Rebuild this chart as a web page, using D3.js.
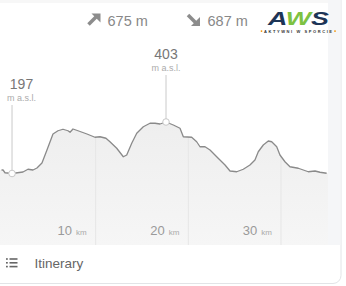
<!DOCTYPE html>
<html><head><meta charset="utf-8">
<script src="https://cdn.jsdelivr.net/npm/d3@7"></script>
<style>
html,body{margin:0;padding:0;background:#fff;overflow:hidden}
svg{display:block;font-family:"Liberation Sans",Arial,sans-serif}
</style></head>
<body><svg id="c" width="346" height="286"></svg>
<script>
// ---- data ----
const distanceKm = [0,0.21,0.97,2.15,2.69,3.23,3.66,4.2,4.74,5.39,5.93,6.47,7.01,7.23,7.55,8.09,9.06,9.92,10.46,11.11,11.54,12.27,12.98,13.35,13.89,14.43,15.14,15.86,16.4,16.94,17.59,18.38,19.1,19.46,20.36,20.9,21.26,21.8,22.34,23.06,23.96,24.5,25.22,25.93,26.65,27.19,27.55,28.09,28.63,29.0,29.54,29.89,30.43,30.97,31.87,32.41,32.95,33.67,34.21,34.93];
const elevationM = [211,200,197,203,214,211,219,239,291,355,368,374,368,362,375,368,355,342,344,338,324,298,264,271,318,358,384,398,398,395,403,391,378,344,342,324,304,304,291,264,231,207,204,214,231,251,284,311,327,324,304,271,244,224,218,211,204,207,202,198];
const tickKm = [10, 20, 30];
const tickUnit = "km";
const ascentLabel = "675 m";
const descentLabel = "687 m";
const elevUnit = "m a.s.l.";
const footerLabel = "Itinerary";

const svg = d3.select("#c");
const chartBottom = 245, chartRight = 328;

// card + background
svg.append("rect").attr("x",-10).attr("y",-10).attr("width",351).attr("height",293.5)
  .attr("rx",8).attr("fill","#fff").attr("stroke","#e2e4e7");
svg.append("rect").attr("x",chartRight).attr("y",0).attr("width",12.5).attr("height",chartBottom).attr("fill","#f5f6f8");
svg.append("rect").attr("x",0).attr("y",0).attr("width",chartRight).attr("height",3).attr("fill","#f7f7f7");

// scales
const x = d3.scaleLinear().domain([0, 35]).range([3.05, 327.3]);
const y = d3.scaleLinear().domain([0, 600]).range([222.75, 72.75]);
const pts = distanceKm.map((d,i)=>({d, e: elevationM[i]}));

// gradient
const defs = svg.append("defs");
const g = defs.append("linearGradient").attr("id","fillg")
  .attr("gradientUnits","userSpaceOnUse").attr("x1",0).attr("x2",0).attr("y1",120).attr("y2",chartBottom);
g.append("stop").attr("offset","0%").attr("stop-color","#eeeeee");
g.append("stop").attr("offset","100%").attr("stop-color","#f6f6f6");

const area = d3.area().x(p=>x(p.d)).y0(chartBottom).y1(p=>y(p.e)).curve(d3.curveLinear);
const line = d3.line().x(p=>x(p.d)).y(p=>y(p.e)).curve(d3.curveLinear);

const areaPts = [{d: x.invert(0), e: elevationM[0]}, ...pts, {d: x.invert(chartRight), e: elevationM[elevationM.length-1]}];
defs.append("clipPath").attr("id","ac").append("path").attr("d", area(areaPts));
svg.append("path").attr("d", area(areaPts)).attr("fill","url(#fillg)");

// gridlines (visible under the profile only)
svg.append("g").attr("clip-path","url(#ac)").selectAll("line").data(tickKm).join("line")
  .attr("x1",d=>x(d)).attr("x2",d=>x(d)).attr("y1",60).attr("y2",chartBottom)
  .attr("stroke","#e6e6e6").attr("stroke-width",1);

svg.append("path").attr("d", line([{d: x.invert(1.5), e: elevationM[0]}, ...pts])).attr("fill","none")
  .attr("stroke","#8a8a8a").attr("stroke-width",1.3).attr("stroke-linejoin","round");

// tick labels
const tl = svg.append("g").selectAll("text").data(tickKm).join("text")
  .attr("x",d=>x(d)-9).attr("y",235).attr("text-anchor","end").attr("fill","#9a9a9a");
tl.append("tspan").attr("font-size","13px").text(d=>d);
tl.append("tspan").attr("font-size","8px").attr("fill","#aaa").attr("dx",4).text(tickUnit);

// min / max markers
const iMin = d3.minIndex(elevationM), iMax = d3.maxIndex(elevationM);
const marks = [
  {i: iMin, labelY: 89, unitY: 100.5, lineTop: 105},
  {i: iMax, labelY: 58.7, unitY: 70.5, lineTop: 75}
];
marks.forEach(m=>{
  const mx = x(distanceKm[m.i]), my = y(elevationM[m.i]);
  const lx = Math.max(mx, 21.5);
  svg.append("line").attr("x1",mx).attr("x2",mx).attr("y1",m.lineTop).attr("y2",my)
    .attr("stroke","#dedede").attr("stroke-width",1.6);
  svg.append("circle").attr("cx",mx).attr("cy",my).attr("r",3.3).attr("fill","#fff")
    .attr("stroke","#c8c8c8").attr("stroke-width",1);
  svg.append("text").attr("x",lx).attr("y",m.labelY).attr("text-anchor","middle")
    .attr("font-size","14px").attr("fill","#777").text(elevationM[m.i]);
  svg.append("text").attr("x",lx).attr("y",m.unitY).attr("text-anchor","middle")
    .attr("font-size","9px").attr("fill","#ababab").text(elevUnit);
});

// header: ascent / descent
function arrow(x0, y0, down){
  const gg = svg.append("g").attr("transform",`translate(${x0},${y0})`);
  if(!down){
    gg.append("line").attr("x1",1.5).attr("y1",11).attr("x2",9).attr("y2",3.5).attr("stroke","#8c8c8c").attr("stroke-width",3.6);
    gg.append("path").attr("d","M4.5,0 L13.5,0 L13.5,9 Z").attr("fill","#8c8c8c");
  } else {
    gg.append("line").attr("x1",1.5).attr("y1",1.5).attr("x2",9).attr("y2",9).attr("stroke","#8c8c8c").attr("stroke-width",3.6);
    gg.append("path").attr("d","M13.5,3.5 L13.5,12.5 L4.5,12.5 Z").attr("fill","#8c8c8c");
  }
}
arrow(87, 13.5, false);
arrow(186.5, 13.5, true);
svg.append("text").attr("x",107.5).attr("y",26).attr("font-size","14.5px").attr("fill","#888").text(ascentLabel);
svg.append("text").attr("x",207.5).attr("y",26).attr("font-size","14.5px").attr("fill","#888").text(descentLabel);

// logo
const logo = svg.append("g");
logo.append("text").attr("x",268).attr("y",24.5).attr("font-size","19px").attr("font-weight","bold")
  .attr("font-style","italic").attr("textLength",61).attr("lengthAdjust","spacingAndGlyphs")
  .attr("fill","#1d3557").call(t=>{
    t.append("tspan").text("A");
    t.append("tspan").attr("fill","#7dc242").text("W");
    t.append("tspan").text("S");
  });
logo.append("text").attr("x",264).attr("y",32.5).attr("font-size","4px").attr("font-weight","bold")
  .attr("textLength",68).attr("lengthAdjust","spacing").attr("fill","#333").text("AKTYWNI W SPORCIE");
logo.append("circle").attr("cx",261.5).attr("cy",31.1).attr("r",0.9).attr("fill","#f39200");
logo.append("circle").attr("cx",335).attr("cy",31.1).attr("r",0.9).attr("fill","#f39200");

// footer
const fi = svg.append("g").attr("fill","#666");
[259, 262.8, 266.6].forEach(yy=>{
  fi.append("rect").attr("x",6).attr("y",yy-0.8).attr("width",1.8).attr("height",1.6);
  fi.append("rect").attr("x",9.5).attr("y",yy-0.8).attr("width",8).attr("height",1.6);
});
svg.append("text").attr("x",34.5).attr("y",268).attr("font-size","13.5px").attr("fill","#666").text(footerLabel);
</script></body></html>
